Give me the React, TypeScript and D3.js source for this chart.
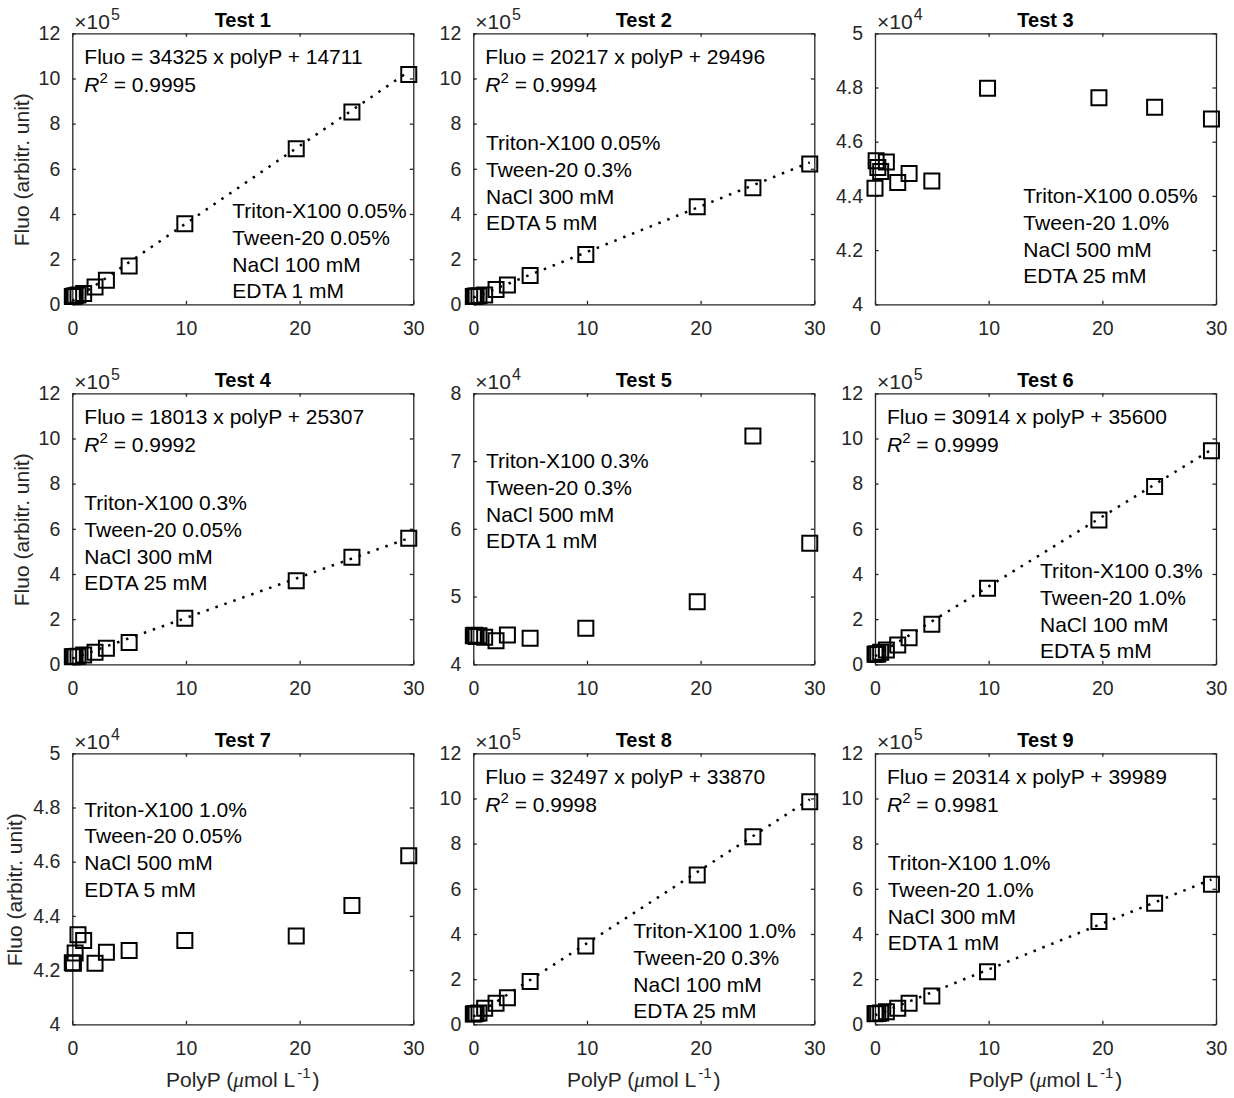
import React, { useEffect, useRef } from 'react';
import * as d3 from 'd3';

// polyP concentrations (umol/L), same for every test
const polyP = [0, 0.1, 0.25, 0.5, 1, 2, 3, 5, 9.9, 19.7, 24.6, 29.6];

// fluorescence
const fluoTest1 = [34000, 36000, 38000, 41000, 48000, 77000, 106000, 170000, 357000, 689000, 851000, 1018000];
const fluoTest2 = [35000, 36000, 37000, 38000, 41000, 66000, 85500, 128000, 221000, 432000, 516000, 621000];
const fluoTest3 = [44280, 45300, 45050, 44900, 45250, 44490, 44830, 44550, 47970, 47620, 47270, 46840];
const fluoTest4 = [33000, 34000, 34000, 36000, 41000, 53000, 71000, 96000, 204000, 370000, 474000, 558000];
const fluoTest5 = [44200, 44300, 44100, 44200, 44000, 43480, 44320, 43840, 45310, 49240, 73700, 57860];
const fluoTest6 = [45000, 46000, 46000, 53000, 63000, 85000, 118000, 177000, 337000, 639000, 787000, 946000];
const fluoTest7 = [42270, 42250, 42630, 43300, 43090, 42250, 42660, 42720, 43090, 43260, 44380, 46220];
const fluoTest8 = [46000, 47000, 48000, 50000, 71000, 93000, 118000, 189000, 347000, 661000, 831000, 986000];
const fluoTest9 = [47000, 48000, 48000, 50000, 56000, 71000, 93000, 125000, 233000, 455000, 536000, 620000];

const titles = ['Test 1', 'Test 2', 'Test 3', 'Test 4', 'Test 5', 'Test 6', 'Test 7', 'Test 8', 'Test 9'];

// linear fits (null = no fit shown)
const fitSlope = [34325, 20217, null, 18013, null, 30914, null, 32497, 20314];
const fitIntercept = [14711, 29496, null, 25307, null, 35600, null, 33870, 39989];
const rSquared = ['0.9995', '0.9994', null, '0.9992', null, '0.9999', null, '0.9998', '0.9981'];

// buffer conditions
const triton = ['0.05%', '0.05%', '0.05%', '0.3%', '0.3%', '0.3%', '1.0%', '1.0%', '1.0%'];
const tween = ['0.05%', '0.3%', '1.0%', '0.05%', '0.3%', '1.0%', '0.05%', '0.3%', '1.0%'];
const nacl = ['100', '300', '500', '300', '500', '100', '500', '100', '300'];
const edta = ['1', '5', '25', '25', '1', '5', '5', '25', '1'];

// y axis kinds
const yLinTicks = [0, 2, 4, 6, 8, 10, 12];
const yFlatTicks = [4, 4.2, 4.4, 4.6, 4.8, 5];
const yWideTicks = [4, 5, 6, 7, 8];
const xTicks = [0, 10, 20, 30];

const panelFluo = [fluoTest1, fluoTest2, fluoTest3, fluoTest4, fluoTest5, fluoTest6, fluoTest7, fluoTest8, fluoTest9];
const yKind = ['lin', 'lin', 'flat', 'lin', 'wide', 'lin', 'flat', 'lin', 'lin'];
const yCfg = {
  lin: { ticks: yLinTicks, exp: 5, labelOff: -43 },
  flat: { ticks: yFlatTicks, exp: 4, labelOff: -50 },
  wide: { ticks: yWideTicks, exp: 4, labelOff: -43 },
};

// layout
const W = 1234, H = 1098;
const colLeft = [72.3, 473.3, 875];
const rowTop = [33.3, 393.3, 753.3];
const axW = 341, axH = 271;
// condition text block: offset from the axes' top-left corner
const notePos = [[160, 185], [12.7, 117], [148.3, 170], [12, 117], [12.7, 75], [165, 185], [12, 63.4], [160, 185], [12.7, 117]];
const noteStep = 26.7;

const font = '"Liberation Sans", Arial, Helvetica, sans-serif';
const axisColor = '#262626';
const tickFont = 19.5;
const noteFont = 21;
const labelFont = 21;

const App = () => {
  const svgRef = useRef(null);

  useEffect(() => {
    const svg = d3.select(svgRef.current);
    svg.selectAll('*').remove();

    panelFluo.forEach((vals, i) => {
      const c = i % 3, r = Math.floor(i / 3);
      const g = svg.append('g').attr('transform', `translate(${colLeft[c]},${rowTop[r]})`);
      const cfg = yCfg[yKind[i]];
      const scaleF = Math.pow(10, cfg.exp);

      const x = d3.scaleLinear().domain([0, 30]).range([0, axW]);
      const y = d3.scaleLinear()
        .domain([cfg.ticks[0], cfg.ticks[cfg.ticks.length - 1]])
        .range([axH, 0]);

      const fmt = (d) => String(+d.toFixed(2));

      // four sides, ticks pointing in
      const bottom = d3.axisBottom(x).tickValues(xTicks).tickFormat(fmt)
        .tickSizeInner(-3.5).tickSizeOuter(0).tickPadding(16.5);
      const top = d3.axisTop(x).tickValues(xTicks).tickFormat(() => '')
        .tickSizeInner(-3.5).tickSizeOuter(0);
      const left = d3.axisLeft(y).tickValues(cfg.ticks).tickFormat(fmt)
        .tickSizeInner(-3.5).tickSizeOuter(0).tickPadding(12);
      const right = d3.axisRight(y).tickValues(cfg.ticks).tickFormat(() => '')
        .tickSizeInner(-3.5).tickSizeOuter(0);

      g.append('g').attr('transform', `translate(0,${axH})`).call(bottom);
      g.append('g').call(top);
      g.append('g').call(left);
      g.append('g').attr('transform', `translate(${axW},0)`).call(right);

      g.selectAll('.domain').attr('stroke', axisColor).attr('stroke-width', 1.3);
      g.selectAll('.tick line').attr('stroke', axisColor).attr('stroke-width', 1.3);
      g.selectAll('.tick text')
        .attr('fill', axisColor)
        .style('font-family', font)
        .style('font-size', tickFont + 'px');
      g.selectAll('g').attr('font-family', null).attr('font-size', null);

      // exponent label
      const ex = g.append('text').attr('x', 2).attr('y', -4)
        .attr('fill', axisColor).style('font-family', font).style('font-size', '21px');
      ex.append('tspan').style('font-weight', '300').text('\u00d7');
      ex.append('tspan').text('10');
      ex.append('tspan').attr('dx', 1).attr('dy', -9).style('font-size', '16px').text(String(cfg.exp));

      // title
      g.append('text').attr('x', axW / 2).attr('y', -6.5).attr('text-anchor', 'middle')
        .style('font-family', font).style('font-size', '20px').style('font-weight', 'bold')
        .attr('fill', '#000').text(titles[i]);

      // fit line
      if (fitSlope[i] !== null) {
        const ends = [polyP[0], polyP[polyP.length - 1]];
        const line = d3.line()
          .x((d) => x(d))
          .y((d) => y((fitSlope[i] * d + fitIntercept[i]) / scaleF));
        g.append('path').datum(ends).attr('d', line)
          .attr('fill', 'none').attr('stroke', '#000').attr('stroke-width', 2.5)
          .attr('stroke-dasharray', '2.5 7');
      }

      // markers
      const sq = d3.symbol().type(d3.symbolSquare).size(225);
      g.append('g').selectAll('path').data(vals).join('path')
        .attr('d', sq)
        .attr('transform', (d, k) => `translate(${x(polyP[k])},${y(d / scaleF)})`)
        .attr('fill', 'none').attr('stroke', '#000').attr('stroke-width', 2);

      // equation
      if (fitSlope[i] !== null) {
        g.append('text').attr('x', 12).attr('y', 31)
          .style('font-family', font).style('font-size', noteFont + 'px').attr('fill', '#000')
          .text(`Fluo = ${fitSlope[i]} x polyP + ${fitIntercept[i]}`);
        const rt = g.append('text').attr('x', 12).attr('y', 59)
          .style('font-family', font).style('font-size', noteFont + 'px').attr('fill', '#000');
        rt.append('tspan').style('font-style', 'italic').text('R');
        rt.append('tspan').attr('dy', -9).style('font-size', '15px').text('2');
        rt.append('tspan').attr('dy', 9).text(` = ${rSquared[i]}`);
      }

      // conditions
      const notes = [
        `Triton-X100 ${triton[i]}`,
        `Tween-20 ${tween[i]}`,
        `NaCl ${nacl[i]} mM`,
        `EDTA ${edta[i]} mM`,
      ];
      g.append('g').selectAll('text').data(notes).join('text')
        .attr('x', notePos[i][0])
        .attr('y', (d, k) => notePos[i][1] + k * noteStep)
        .style('font-family', font).style('font-size', noteFont + 'px').attr('fill', '#000')
        .text((d) => d);

      // axis labels
      if (c === 0) {
        g.append('text')
          .attr('transform', `translate(${cfg.labelOff},${axH / 2 + 1}) rotate(-90)`)
          .attr('text-anchor', 'middle')
          .style('font-family', font).style('font-size', labelFont + 'px').attr('fill', axisColor)
          .text('Fluo (arbitr. unit)');
      }
      if (r === 2) {
        const xl = g.append('text').attr('x', axW / 2).attr('y', axH + 62.7)
          .attr('text-anchor', 'middle')
          .style('font-family', font).style('font-size', labelFont + 'px').attr('fill', axisColor);
        xl.append('tspan').text('PolyP (');
        xl.append('tspan').style('font-style', 'italic').style('font-family', '"Liberation Serif", serif').text('\u03bc');
        xl.append('tspan').text('mol L');
        xl.append('tspan').attr('dx', 2).attr('dy', -9).style('font-size', '15px').text('-1');
        xl.append('tspan').attr('dx', 2).attr('dy', 9).text(')');
      }
    });
  }, []);

  return (
    <svg ref={svgRef} width={W} height={H}
      style={{ position: 'absolute', left: 0, top: 0, background: '#fff' }} />
  );
};

export default App;
